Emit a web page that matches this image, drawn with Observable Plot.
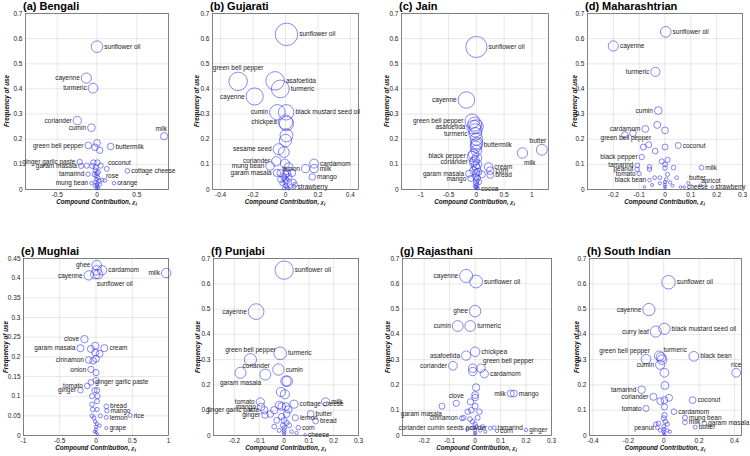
<!DOCTYPE html>
<html><head><meta charset="utf-8">
<script src="https://cdn.jsdelivr.net/npm/d3@7"></script>
<script src="https://cdn.jsdelivr.net/npm/@observablehq/plot@0.6"></script>
<style>
body{margin:0;background:#fff;font-family:"Liberation Sans",Arial,sans-serif;}
#root{position:relative;width:750px;height:456px;overflow:hidden;background:#fff;}
.panel{position:absolute;}
.panel svg{overflow:visible;display:block;}
.title{position:absolute;font-weight:bold;font-size:11px;line-height:11px;white-space:nowrap;color:#000;}
.xlab,.ylab{position:absolute;font-weight:bold;font-style:italic;font-size:6.3px;line-height:7px;white-space:nowrap;color:#111;}
.xlab{transform:translate(-50%,0);}
.ylab{transform:translate(-50%,-50%) rotate(-90deg);}
sub{font-size:5px;}
</style></head><body><div id="root"></div>
<script>
// ---------- data ----------
const yTicks07 = [0,0.1,0.2,0.3,0.4,0.5,0.6,0.7];
const yTicks045 = [0,0.05,0.1,0.15,0.2,0.25,0.3,0.35,0.4,0.45];

// (a) Bengali
const bengaliNames = ["sunflower oil","cayenne","turmeric","coriander","cumin","milk","green bell pepper","buttermilk","ginger garlic paste","garam masala","coconut","cottage cheese","tamarind","rose","mung bean","orange"];
const bengaliX = [0.0,-0.134,-0.05,-0.248,-0.07,0.845,-0.109,0.172,-0.218,-0.2,0.122,0.382,-0.113,0.1,-0.07,0.214];
const bengaliY = [0.568,0.443,0.403,0.274,0.246,0.212,0.175,0.171,0.109,0.094,0.082,0.074,0.061,0.036,0.026,0.025];
const bengaliPlace = ["r","l","l","l","l","tl","l","r","l","l","tr","r","l","tr","l","r"];
const bengaliOtherX = [0,-0.025,0.035,-0.045,0.005,-0.13,-0.06,0.046,-0.015,-0.02,0,-0.01,0.01,-0.005,0.03,0.065,-0.02,0.005,0,0.01,-0.01,0.02,0,-0.03,0.04,0.015,-0.035];
const bengaliOtherY = [0.185,0.168,0.156,0.107,0.107,0.095,0.094,0.095,0.088,0.076,0.065,0.055,0.048,0.04,0.035,0.037,0.03,0.025,0.018,0.012,0.008,0.005,0.003,0.015,0.02,0.07,0.06];
const bengaliXTicks = [-0.5,0,0.5];

// (b) Gujarati
const gujaratiNames = ["sunflower oil","green bell pepper","asafoetida","turmeric","cayenne","cumin","black mustard seed oil","chickpea","sesame seed","coriander","mung bean","cardamom","lemon","milk","garam masala","mango","strawberry"];
const gujaratiX = [0.006,-0.292,-0.064,-0.032,-0.19,-0.05,0.004,0.0,-0.042,-0.057,-0.095,0.176,0.123,0.176,-0.053,0.165,0.053];
const gujaratiY = [0.617,0.43,0.432,0.4,0.37,0.307,0.307,0.268,0.16,0.112,0.094,0.103,0.083,0.083,0.066,0.05,0.011];
const gujaratiPlace = ["r","t","r","r","l","l","r","l","l","l","l","r","l","r","l","r","r"];
const gujaratiOtherX = [0.006,0.006,0,-0.01,-0.004,0.02,-0.03,0.01,0.04,-0.01,0,0.01,0.05,0.06,-0.02,0,0.01,0.02,-0.01,0,0.03,-0.03,0,0.02];
const gujaratiOtherY = [0.262,0.215,0.195,0.149,0.103,0.09,0.065,0.066,0.066,0.05,0.04,0.035,0.03,0.02,0.025,0.015,0.008,0.004,0.005,0.028,0.012,0.04,0.06,0.05];
const gujaratiXTicks = [-0.4,-0.2,0,0.2,0.4];

// (c) Jain
const jainNames = ["sunflower oil","cayenne","green bell pepper","asafoetida","turmeric","buttermilk","butter","milk","black pepper","coriander","cream","corn","bread","garam masala","mango","cocoa"];
const jainX = [0.0,-0.18,-0.076,-0.047,-0.018,0.0,1.18,0.83,-0.076,-0.047,0.22,0.25,0.25,-0.13,-0.1,0.03];
const jainY = [0.567,0.356,0.272,0.248,0.221,0.179,0.158,0.145,0.132,0.109,0.09,0.075,0.058,0.063,0.044,0.004];
const jainPlace = ["r","l","l","l","l","r","tl","br","l","l","r","r","r","l","l","r"];
const jainOtherX = [-0.03,0,-0.02,0,0.01,-0.01,0,-0.05,0.01,-0.03,0.02,-0.02,0,-0.05,0.03,0,-0.01,0.02,0,-0.01,0.01,0,0,-0.02,0.05,0.1];
const jainOtherY = [0.26,0.25,0.235,0.2,0.185,0.17,0.155,0.14,0.125,0.115,0.1,0.095,0.085,0.075,0.07,0.065,0.05,0.045,0.035,0.025,0.018,0.01,0.005,0.012,0.03,0.06];
const jainXTicks = [-1,-0.5,0,0.5,1];

// (d) Maharashtrian
const maharashtrianNames = ["sunflower oil","cayenne","turmeric","cumin","cardamom","green bell pepper","coconut","black pepper","tamarind","peanut","tomato","black bean","milk","butter","cheese","apricot","strawberry"];
const maharashtrianX = [0.003,-0.2,-0.037,-0.026,-0.076,-0.063,0.051,-0.09,-0.107,-0.108,-0.1,-0.06,0.141,0.09,0.074,0.137,0.183];
const maharashtrianY = [0.627,0.571,0.468,0.314,0.241,0.178,0.175,0.129,0.096,0.08,0.063,0.037,0.087,0.026,0.01,0.016,0.01];
const maharashtrianPlace = ["r","r","l","l","l","tl","r","l","l","l","l","l","r","tr","r","tr","r"];
const maharashtrianOtherX = [-0.03,0,-0.124,-0.155,-0.084,-0.038,0,-0.013,0.01,0,0.033,-0.06,-0.06,0,0.045,-0.04,-0.02,0.005,0,0,0,0,0.02,-0.02,0.03,-0.05,0.06,-0.08,0.01];
const maharashtrianOtherY = [0.257,0.235,0.224,0.217,0.169,0.153,0.169,0.112,0.118,0.1,0.087,0.09,0.08,0.085,0.047,0.047,0.047,0.04,0.03,0.02,0.012,0.005,0.028,0.025,0.015,0.018,0.01,0.01,0.06];
const maharashtrianXTicks = [-0.2,-0.1,0,0.1,0.2,0.3];

// (e) Mughlai
const mughlaiNames = ["ghee","cardamom","cayenne","sunflower oil","milk","clove","garam masala","cream","cinnamon","onion","ginger garlic paste","tomato","ginger","bread","mango","rice","lemon","grape"];
const mughlaiX = [0.01,0.083,-0.1,-0.01,0.968,-0.16,-0.215,0.115,-0.1,-0.07,-0.07,-0.12,-0.215,0.142,0.15,0.47,0.142,0.142];
const mughlaiY = [0.433,0.42,0.407,0.41,0.413,0.245,0.222,0.222,0.192,0.168,0.135,0.126,0.115,0.074,0.063,0.051,0.046,0.019];
const mughlaiPlace = ["l","r","l","br","l","l","l","r","l","l","r","l","l","r","r","r","r","r"];
const mughlaiOtherX = [0.01,0.03,-0.07,-0.01,-0.01,0.05,0,-0.04,-0.02,0.014,-0.055,0.014,-0.055,-0.045,0.014,-0.055,0.06,-0.01,0.01,0,0,0,0.02,-0.02,0.05,-0.03,0,0,0.02];
const mughlaiOtherY = [0.42,0.41,0.22,0.228,0.211,0.208,0.195,0.19,0.115,0.115,0.1,0.087,0.079,0.066,0.066,0.05,0.05,0.035,0.03,0.022,0.015,0.008,0.004,0.01,0.025,0.045,0.14,0.16,0.1];
const mughlaiXTicks = [-1,-0.5,0,0.5,1];

// (f) Punjabi
const punjabiNames = ["sunflower oil","cayenne","green bell pepper","turmeric","coriander","cumin","garam masala","tomato","mango","ginger garlic paste","ginger","cottage cheese","milk","butter","lemon","bread","corn","cheese"];
const punjabiX = [0.0,-0.113,-0.136,-0.016,-0.076,-0.023,-0.176,-0.096,-0.093,-0.08,-0.077,0.04,0.167,0.107,0.045,0.127,0.057,0.085];
const punjabiY = [0.654,0.49,0.3,0.325,0.241,0.261,0.248,0.133,0.113,0.1,0.081,0.124,0.133,0.085,0.07,0.057,0.031,0.003];
const punjabiPlace = ["r","l","t","r","tl","r","b","l","l","l","l","r","r","r","r","r","r","r"];
const punjabiOtherX = [0.007,0.013,-0.013,0.003,-0.056,-0.04,-0.02,-0.01,0.007,0.017,-0.03,0,0.01,-0.005,0.02,0,0,0,0,-0.02,0.03,-0.04,0.05,-0.01,0.01];
const punjabiOtherY = [0.215,0.215,0.172,0.163,0.085,0.1,0.12,0.115,0.115,0.103,0.06,0.06,0.05,0.04,0.04,0.03,0.02,0.012,0.005,0.02,0.015,0.035,0.01,0.075,0.085];
const punjabiXTicks = [-0.2,-0.1,0,0.1,0.2,0.3];

// (g) Rajasthani
const rajasthaniNames = ["cayenne","sunflower oil","ghee","cumin","turmeric","chickpea","asafoetida","coriander","green bell pepper","cardamom","milk","mango","clove","garam masala","cinnamon","coriander cumin seeds powder","tamarind","corn","ginger"];
const rajasthaniX = [-0.035,0.004,0.0,-0.068,-0.019,0.0,-0.035,-0.087,0.023,0.036,0.14,0.152,-0.074,-0.13,-0.052,0.06,0.075,0.086,0.2];
const rajasthaniY = [0.631,0.609,0.492,0.433,0.433,0.331,0.316,0.276,0.266,0.244,0.166,0.166,0.127,0.116,0.068,0.029,0.031,0.018,0.022];
const rajasthaniPlace = ["l","r","l","l","r","r","l","l","tr","r","l","r","t","bl","l","l","r","r","r"];
const rajasthaniOtherX = [-0.009,-0.009,0.004,0,0,-0.018,0,-0.015,-0.029,0.017,-0.02,-0.01,0,0.005,-0.01,0,0,0,0.02,0.03,-0.03,0.04,0.01,-0.045];
const rajasthaniOtherY = [0.266,0.253,0.19,0.16,0.15,0.133,0.116,0.1,0.094,0.094,0.065,0.055,0.045,0.035,0.03,0.02,0.01,0.005,0.02,0.035,0.025,0.015,0.07,0.07];
const rajasthaniXTicks = [-0.2,-0.1,0,0.1,0.2,0.3];

// (h) South Indian
const southIndianNames = ["sunflower oil","cayenne","curry leaf","black mustard seed oil","green bell pepper","turmeric","black bean","rice","cumin","tamarind","coriander","coconut","tomato","cardamom","mung bean","milk","garam masala","butter","peanut"];
const southIndianX = [0.027,-0.084,-0.045,0.004,-0.1,-0.015,0.17,0.41,-0.02,-0.125,-0.058,0.163,-0.1,0.058,0.12,0.12,0.23,0.178,-0.035];
const southIndianY = [0.606,0.498,0.411,0.422,0.302,0.309,0.313,0.248,0.28,0.181,0.153,0.14,0.107,0.094,0.07,0.052,0.048,0.033,0.031];
const southIndianPlace = ["r","l","l","r","tl","tr","r","t","l","l","l","r","l","r","r","r","r","r","l"];
const southIndianOtherX = [-0.025,-0.01,0.004,0.007,-0.02,0.004,0.03,0.004,0.004,0,-0.03,-0.045,0.02,0,0,0,0,0.005,0.02,0.035,-0.02,0.01];
const southIndianOtherY = [0.315,0.3,0.248,0.198,0.136,0.14,0.149,0.113,0.08,0.068,0.048,0.045,0.045,0.035,0.025,0.015,0.008,0.003,0.02,0.015,0.02,0.055];
const southIndianXTicks = [-0.4,-0.2,0,0.2,0.4];

// ---------- layout / style ----------
const panels = [
  {title:"(a) Bengali", names:bengaliNames, xs:bengaliX, ys:bengaliY, place:bengaliPlace, ox:bengaliOtherX, oy:bengaliOtherY, xTicks:bengaliXTicks, yTicks:yTicks07, frame:[25,13,168,189], xDomain:[-0.9,0.9], yDomain:[0,0.7], k:6.7, yLab:19},
  {title:"(b) Gujarati", names:gujaratiNames, xs:gujaratiX, ys:gujaratiY, place:gujaratiPlace, ox:gujaratiOtherX, oy:gujaratiOtherY, xTicks:gujaratiXTicks, yTicks:yTicks07, frame:[212,13,358,189], xDomain:[-0.45,0.45], yDomain:[0,0.7], k:13.7, yLab:16},
  {title:"(c) Jain", names:jainNames, xs:jainX, ys:jainY, place:jainPlace, ox:jainOtherX, oy:jainOtherY, xTicks:jainXTicks, yTicks:yTicks07, frame:[401,13,548,189], xDomain:[-1.35,1.3], yDomain:[0,0.7], k:13.5, yLab:15},
  {title:"(d) Maharashtrian", names:maharashtrianNames, xs:maharashtrianX, ys:maharashtrianY, place:maharashtrianPlace, ox:maharashtrianOtherX, oy:maharashtrianOtherY, xTicks:maharashtrianXTicks, yTicks:yTicks07, frame:[587,13,742,189], xDomain:[-0.3,0.3], yDomain:[0,0.7], k:5.7, yLab:13},
  {title:"(e) Mughlai", names:mughlaiNames, xs:mughlaiX, ys:mughlaiY, place:mughlaiPlace, ox:mughlaiOtherX, oy:mughlaiOtherY, xTicks:mughlaiXTicks, yTicks:yTicks045, frame:[23,258,168,435], xDomain:[-1,1], yDomain:[0,0.45], k:6.3, yLab:18},
  {title:"(f) Punjabi", names:punjabiNames, xs:punjabiX, ys:punjabiY, place:punjabiPlace, ox:punjabiOtherX, oy:punjabiOtherY, xTicks:punjabiXTicks, yTicks:yTicks07, frame:[213,258,358,435], xDomain:[-0.285,0.3], yDomain:[0,0.7], k:10.5, yLab:16},
  {title:"(g) Rajasthani", names:rajasthaniNames, xs:rajasthaniX, ys:rajasthaniY, place:rajasthaniPlace, ox:rajasthaniOtherX, oy:rajasthaniOtherY, xTicks:rajasthaniXTicks, yTicks:yTicks07, frame:[402,258,551,435], xDomain:[-0.285,0.3], yDomain:[0,0.7], k:7.3, yLab:15},
  {title:"(h) South Indian", names:southIndianNames, xs:southIndianX, ys:southIndianY, place:southIndianPlace, ox:southIndianOtherX, oy:southIndianOtherY, xTicks:southIndianXTicks, yTicks:yTicks07, frame:[589,258,741,435], xDomain:[-0.42,0.44], yDomain:[0,0.7], k:7.8, yLab:13}
];

const root = document.getElementById("root");
const mL = 40, mR = 40, mT = 15, mB = 30;
const fmt = d => String(d);
const FONT = "'Liberation Sans', Arial, sans-serif";

function labelOffsets(place, r) {
  switch (place) {
    case "l":  return {dx: -(r + 1.5), dy: 0, a: "end"};
    case "t":  return {dx: 0, dy: -(r + 4), a: "middle"};
    case "b":  return {dx: 0, dy: r + 5, a: "middle"};
    case "tl": return {dx: 0.8 * r, dy: -(r + 3.5), a: "end"};
    case "tr": return {dx: 0.5 * r, dy: -(r + 3), a: "start"};
    case "br": return {dx: 0.3 * r, dy: r + 4.5, a: "start"};
    case "bl": return {dx: 0, dy: r + 4.5, a: "end"};
    default:   return {dx: r + 1.5, dy: 0, a: "start"};
  }
}

for (const p of panels) {
  const [x0, y0, x1, y1] = p.frame;
  const fw = x1 - x0, fh = y1 - y0;
  const W = fw + mL + mR, H = fh + mT + mB;
  const rOf = d3.scalePow().exponent(0.6).domain([0, 1]).range([1, 1 + p.k]);
  const pts = p.names.map((n, i) => ({name: n, x: p.xs[i], y: p.ys[i], place: p.place[i]}));
  const others = p.ox.map((x, i) => ({name: "", x, y: p.oy[i]}));
  const all = others.concat(pts);
  const labels = pts.map(d => {
    const o = labelOffsets(d.place, rOf(d.y));
    return Plot.text([d], {x: "x", y: "y", text: "name", dx: o.dx, dy: o.dy, textAnchor: o.a, fontSize: 6.5, fill: "#1a1a1a"});
  });
  const chart = Plot.plot({
    width: W, height: H,
    marginLeft: mL, marginRight: mR, marginTop: mT, marginBottom: mB,
    style: {background: "none", overflow: "visible", fontFamily: FONT, fontSize: "6.5px", color: "#222"},
    x: {domain: p.xDomain, ticks: p.xTicks, tickFormat: fmt, tickSize: 0, tickPadding: 3, grid: true, label: null},
    y: {domain: p.yDomain, ticks: p.yTicks, tickFormat: fmt, tickSize: 0, tickPadding: 3, grid: true, label: null},
    r: {type: "pow", exponent: 0.6, domain: [0, 1], range: [1, 1 + p.k]},
    marks: [
      Plot.frame({stroke: "#666", strokeWidth: 0.8}),
      Plot.dot(all, {x: "x", y: "y", r: "y", stroke: "#3737ee", strokeWidth: 0.6, fill: "none"}),
      ...labels
    ]
  });
  const div = document.createElement("div");
  div.className = "panel";
  div.style.left = (x0 - mL) + "px";
  div.style.top = (y0 - mT) + "px";
  div.style.width = W + "px";
  div.style.height = H + "px";
  div.appendChild(chart);
  root.appendChild(div);

  const t = document.createElement("div");
  t.className = "title";
  t.style.left = (x0 - 2) + "px";
  t.style.top = (y0 - 12.5) + "px";
  t.textContent = p.title;
  root.appendChild(t);

  const xl = document.createElement("div");
  xl.className = "xlab";
  xl.style.left = ((x0 + x1) / 2) + "px";
  xl.style.top = (y1 + 9) + "px";
  xl.innerHTML = "Compound Contribution, <span style='font-family:serif'>χ</span><sub>i</sub>";
  root.appendChild(xl);

  const yl = document.createElement("div");
  yl.className = "ylab";
  yl.style.left = (x0 - p.yLab) + "px";
  yl.style.top = ((y0 + y1) / 2) + "px";
  yl.textContent = "Frequency of use";
  root.appendChild(yl);
}
</script>
</body></html>
